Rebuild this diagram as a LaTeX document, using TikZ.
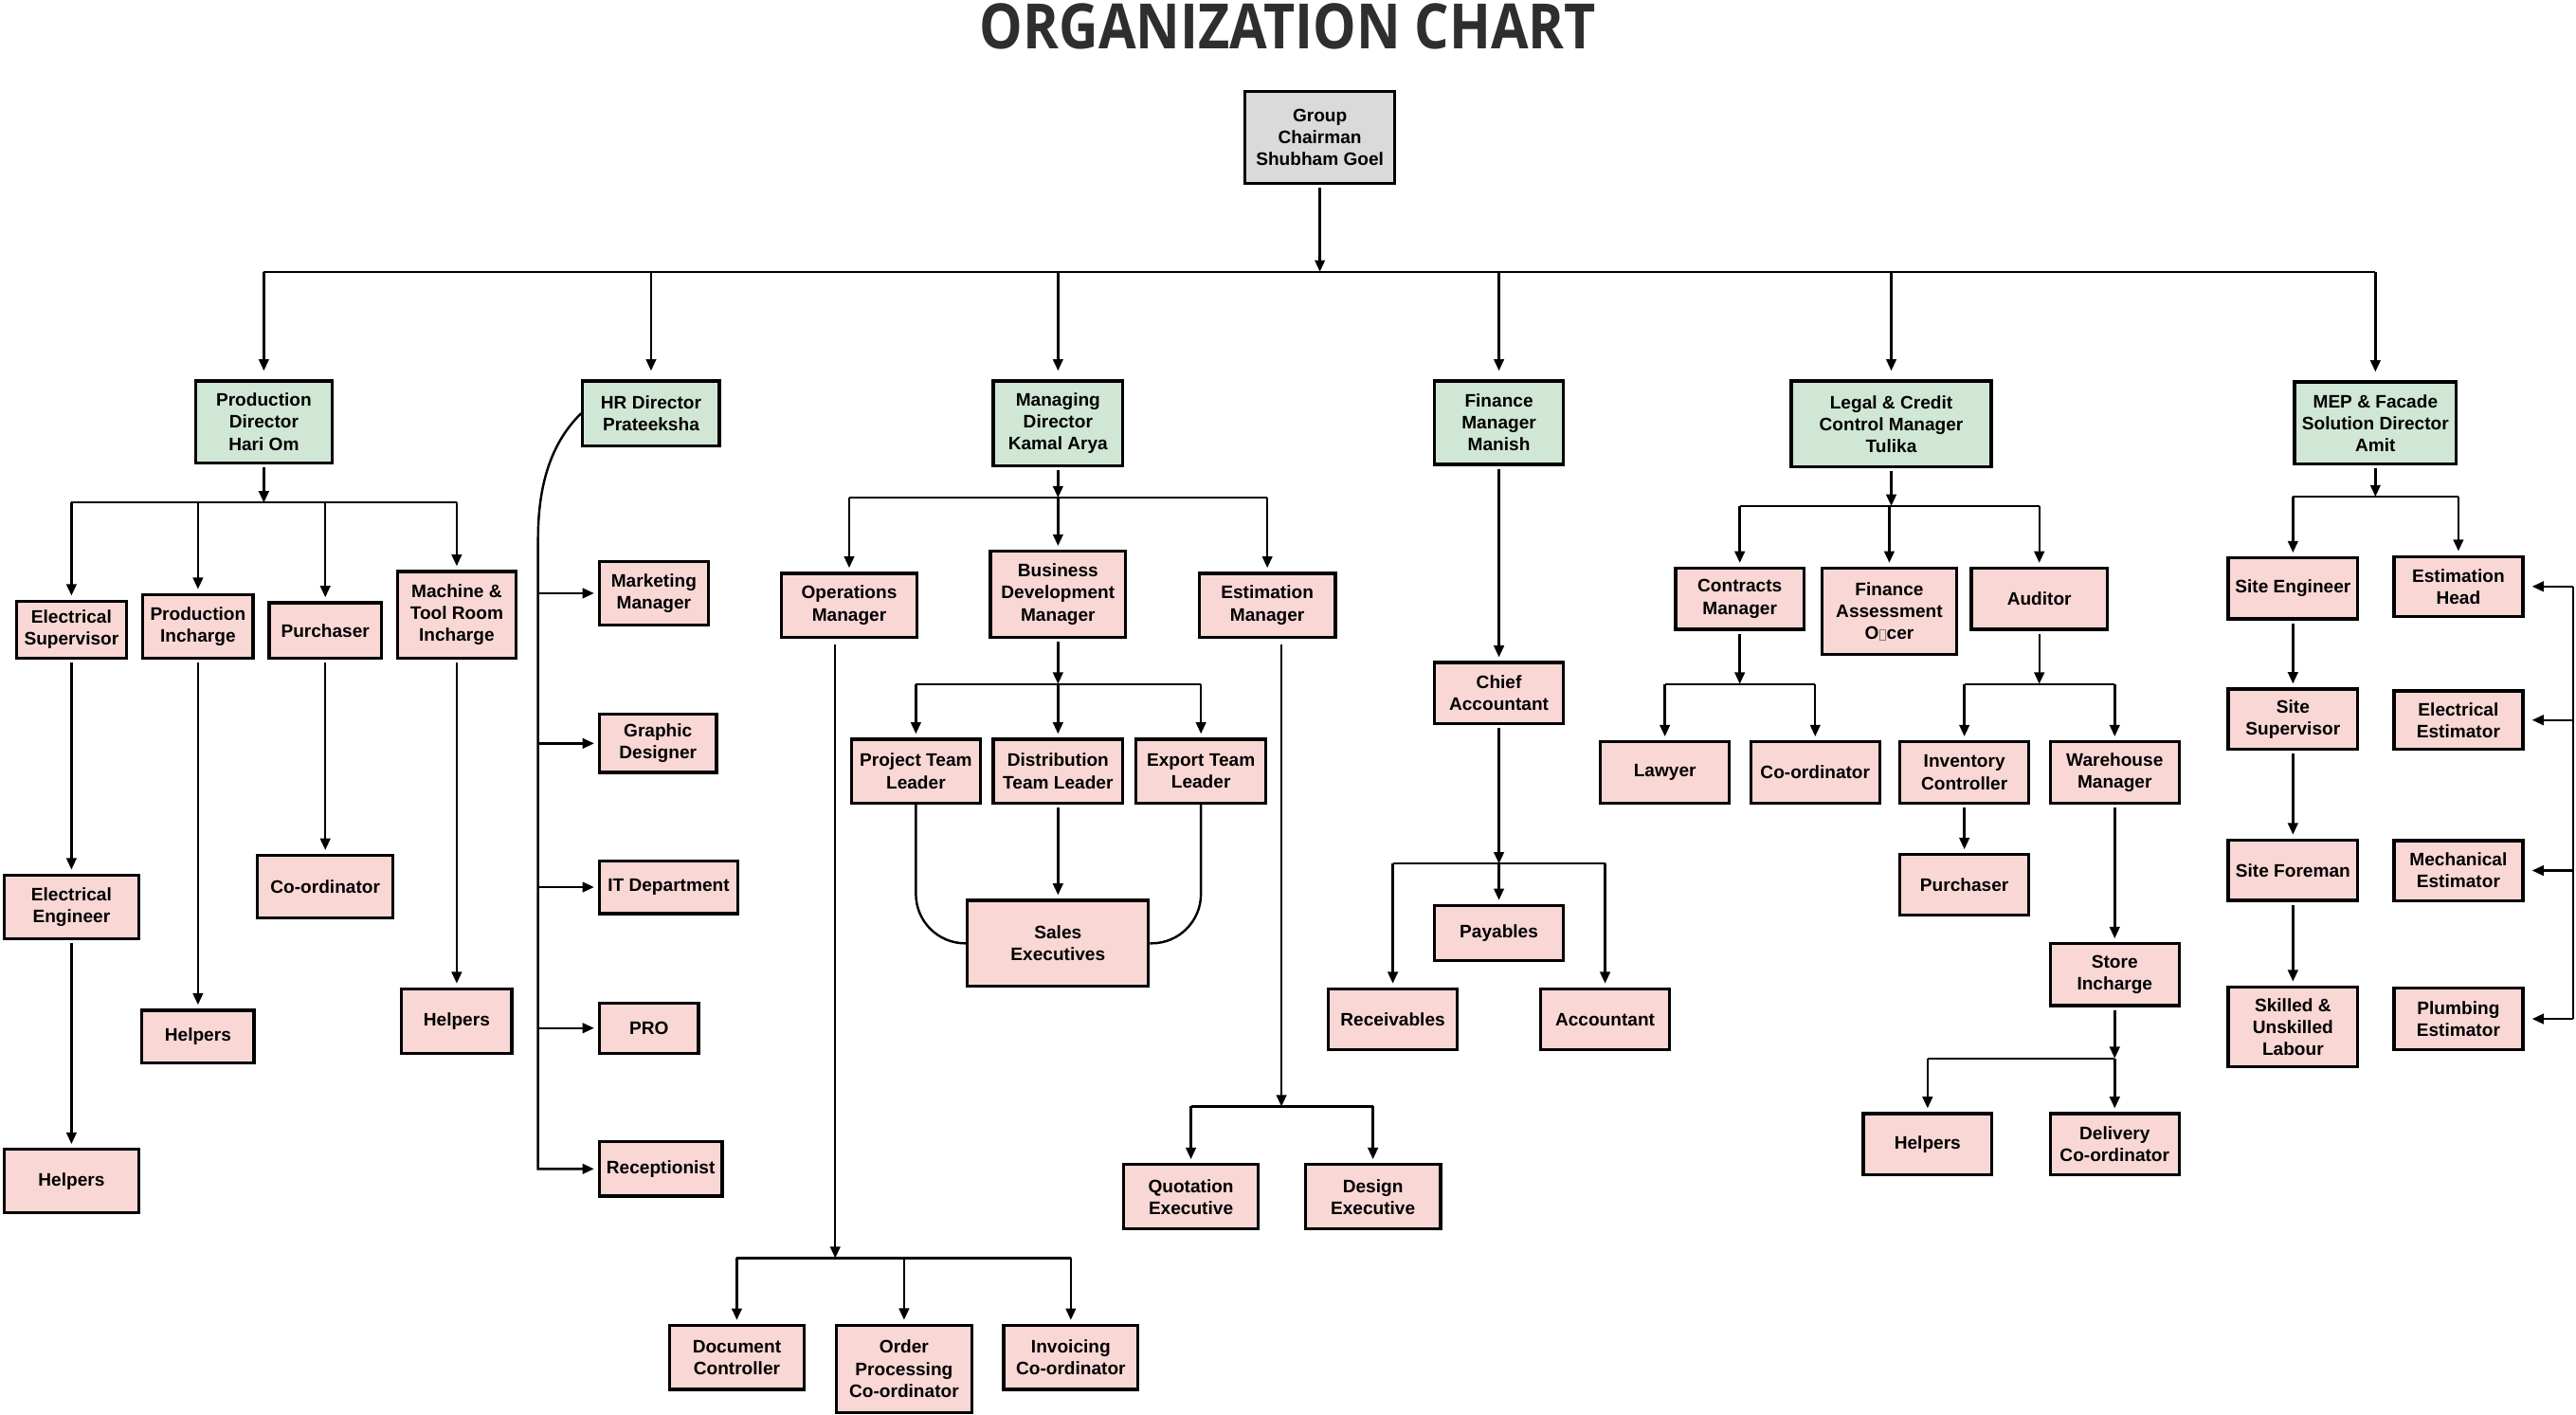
\documentclass[tikz,border=0pt]{standalone}
\usepackage{fontspec}
\setmainfont{Liberation Sans}
\newfontfamily\titlefont{Open Sans}
\usepackage{graphicx}
\usepackage{xcolor}
\usetikzlibrary{arrows.meta}

\definecolor{headgreen}{HTML}{D1E7D6}
\definecolor{staffpink}{HTML}{F9D7D5}
\definecolor{chairgray}{HTML}{DADADA}
\definecolor{titlegray}{HTML}{2E2E2E}
\newcommand{\boxfont}{\fontsize{9.4}{11.4}\selectfont\bfseries}
\newcommand{\tofu}{\kern0.05em{\color{gray}\fboxsep=0pt\fboxrule=0.35pt\fbox{\rule{0pt}{0.52em}\hspace{0.26em}}}\kern0.05em}

\begin{document}
\begin{tikzpicture}[x=0.03cm,y=-0.03cm,
        box/.style={draw,line width=1.6pt,fill=staffpink,align=center,inner sep=1pt,font=\boxfont},
        head/.style={box,fill=headgreen},
        wh/.style 2 args={minimum width=(#1-1.8)*0.03cm,minimum height=(#2-1.8)*0.03cm},
        arr/.style={line width=1.2pt,-{Triangle[width=5.2pt,length=6pt]},shorten >=2pt},
        feed/.style={arr,shorten <=1.5pt},
        tobus/.style={feed,shorten >=0pt},
        bus/.style={line width=1.05pt},
        wire/.style={line width=1.2pt}]
        \useasboundingbox (0,0) rectangle (1568,861.3);
        \node[anchor=base,inner sep=0pt,text=titlegray,font=\titlefont\bfseries\fontsize{32.5}{36}\selectfont] (title) at (784,29.5) {\scalebox{0.87}[1]{ORGANIZATION CHART}};
        \node[box,fill=chairgray,wh={93}{57.7}] (chair) at (803.4,83.7) {Group\\Chairman\\Shubham Goel};
        \node[head,wh={84.8}{51.6}] (pd) at (160.6,256.8) {Production\\Director\\Hari Om};
        \node[head,wh={85}{41.2}] (hr) at (396.3,251.6) {HR Director\\Prateeksha};
        \node[head,wh={80.6}{53.6}] (md) at (644,257.8) {Managing\\Director\\Kamal Arya};
        \node[head,wh={80.3}{52.6}] (fm) at (912.4,257.3) {Finance\\Manager\\Manish};
        \node[head,wh={123.5}{54.2}] (lcm) at (1151.2,258.1) {Legal \& Credit\\Control Manager\\Tulika};
        \node[head,wh={100.2}{51.8}] (mep) at (1445.9,257.5) {MEP \& Facade\\Solution Director\\Amit};
        \coordinate (topbus) at (803.4,165.4);
        \draw[tobus] (chair) -- (topbus);
        \draw[bus] (pd.north |- topbus) -- (mep.north |- topbus);
        \foreach \d in {pd,hr,md,fm,lcm,mep}
            \draw[arr,shorten >=4.5pt] (\d.north |- topbus) -- (\d.north);
        % production
        \node[box,wh={69}{36.7}] (es) at (43.5,383.3) {Electrical\\Supervisor};
        \node[box,wh={69}{40.7}] (pi) at (120.5,381.3) {Production\\Incharge};
        \node[box,wh={70}{35.7}] (pur1) at (198,383.8) {Purchaser};
        \node[box,wh={74}{54.7}] (mtr) at (278,374.3) {Machine \&\\Tool Room\\Incharge};
        \node[box,wh={83.8}{40.6}] (ee) at (43.5,552) {Electrical\\Engineer};
        \node[box,wh={83.8}{40.3}] (helpers1) at (43.5,718.9) {Helpers};
        \node[box,wh={70}{34}] (helpers2) at (120.5,631) {Helpers};
        \node[box,wh={84.4}{40}] (coord1) at (198,539.8) {Co-ordinator};
        \node[box,wh={68.8}{41}] (helpers3) at (278,621.5) {Helpers};
        \coordinate (pdbus) at (160.6,306);
        \draw[tobus] (pd) -- (pdbus);
        \draw[bus] (es.north |- pdbus) -- (mtr.north |- pdbus);
        \foreach \c in {es,pi,pur1,mtr}
            \draw[arr] (\c.north |- pdbus) -- (\c.north);
        \draw[feed] (es) -- (ee);
        \draw[feed] (ee) -- (helpers1);
        \draw[feed] (pi) -- (helpers2);
        \draw[feed] (pur1) -- (coord1);
        \draw[feed] (mtr) -- (helpers3);
        % hr
        \node[box,wh={68}{40.8}] (mkt) at (398,361.1) {Marketing\\Manager};
        \node[box,wh={73}{37}] (gd) at (400.5,452.5) {Graphic\\Designer};
        \node[box,wh={86}{34}] (itd) at (407,540) {IT Department};
        \node[box,wh={62}{32.4}] (pro) at (395,625.8) {PRO};
        \node[box,wh={76.5}{35}] (rec) at (402.2,711.5) {Receptionist};
        \coordinate (spine) at (327.5,0);
        \draw[arr] (hr.west) .. controls (337,268) and (327.5,292) .. (327.5,328) -- (rec.west -| spine) -- (rec.west);
        \foreach \n in {mkt,gd,itd,pro}
            \draw[arr] (\n.west -| spine) -- (\n.west);
        % managing director
        \node[box,wh={84.7}{40.7}] (om) at (516.9,368.4) {Operations\\Manager};
        \node[box,wh={84.2}{54.1}] (bdm) at (644,361.7) {Business\\Development\\Manager};
        \node[box,wh={84.7}{40.7}] (em) at (771.4,368.4) {Estimation\\Manager};
        \node[box,wh={80.3}{40.7}] (ptl) at (557.5,469.4) {Project Team\\Leader};
        \node[box,wh={80.6}{40.7}] (dtl) at (644,469.4) {Distribution\\Team Leader};
        \node[box,wh={80.7}{40.7}] (etl) at (731,469.4) {Export Team\\Leader};
        \node[box,wh={112}{54}] (se) at (644,574.2) {Sales\\Executives};
        \node[box,wh={84}{40.7}] (doc) at (448.5,826.2) {Document\\Controller};
        \node[box,wh={84.5}{54.8}] (opc) at (550.3,833.2) {Order\\Processing\\Co-ordinator};
        \node[box,wh={83.6}{40.7}] (inv) at (651.8,826.2) {Invoicing\\Co-ordinator};
        \node[box,wh={83.7}{41}] (qe) at (724.9,728.5) {Quotation\\Executive};
        \node[box,wh={84.1}{41}] (de) at (835.7,728.5) {Design\\Executive};
        \coordinate (mdbus) at (644,302.9);
        \draw[tobus] (md) -- (mdbus);
        \draw[bus] (om.north |- mdbus) -- (em.north |- mdbus);
        \foreach \c in {om,bdm,em}
            \draw[arr] (\c.north |- mdbus) -- (\c.north);
        \coordinate (bdmbus) at (644,416.3);
        \draw[tobus] (bdm) -- (bdmbus);
        \draw[bus] (ptl.north |- bdmbus) -- (etl.north |- bdmbus);
        \foreach \c in {ptl,dtl,etl}
            \draw[arr] (\c.north |- bdmbus) -- (\c.north);
        \draw[feed] (dtl) -- (se);
        \draw[wire,rounded corners=0.9cm] (ptl.south) |- (se.west);
        \draw[wire,rounded corners=0.9cm] (etl.south) |- (se.east);
        \coordinate (ombus) at (508.4,765.8);
        \draw[tobus,shorten <=3pt] (om.south -| ombus) -- (ombus);
        \draw[bus] (doc.north |- ombus) -- (inv.north |- ombus);
        \foreach \c in {doc,opc,inv}
            \draw[arr] (\c.north |- ombus) -- (\c.north);
        \coordinate (embus) at (780,673.5);
        \draw[tobus,shorten <=3pt] (em.south -| embus) -- (embus);
        \draw[bus] (qe.north |- embus) -- (de.north |- embus);
        \foreach \c in {qe,de}
            \draw[arr] (\c.north |- embus) -- (\c.north);
        % finance
        \node[box,wh={80.3}{38.8}] (ca) at (912.4,421.8) {Chief\\Accountant};
        \node[box,wh={80.3}{35.3}] (pay) at (912.4,567.9) {Payables};
        \node[box,wh={80.2}{39}] (rcv) at (847.8,620.5) {Receivables};
        \node[box,wh={80.1}{39}] (acc) at (977,620.5) {Accountant};
        \draw[feed] (fm) -- (ca);
        \coordinate (cabus) at (912.4,525.7);
        \draw[tobus] (ca) -- (cabus);
        \draw[bus] (rcv.north |- cabus) -- (acc.north |- cabus);
        \foreach \c in {rcv,pay,acc}
            \draw[arr] (\c.north |- cabus) -- (\c.north);
        % legal
        \node[box,wh={80}{39}] (cm) at (1059,364.5) {Contracts\\Manager};
        \node[box,wh={84}{54.5}] (fao) at (1150,372.2) {Finance\\Assessment\\O\tofu cer};
        \node[box,wh={84.6}{39}] (aud) at (1241.3,364.5) {Auditor};
        \node[box,wh={80.2}{39.1}] (law) at (1013.4,470.2) {Lawyer};
        \node[box,wh={80.3}{39.1}] (coord2) at (1104.9,470.2) {Co-ordinator};
        \node[box,wh={80.1}{39.1}] (ic) at (1195.7,470.2) {Inventory\\Controller};
        \node[box,wh={80.3}{39.1}] (wm) at (1287.2,470.2) {Warehouse\\Manager};
        \node[box,wh={80.1}{38.7}] (pur2) at (1195.7,538.7) {Purchaser};
        \node[box,wh={80.3}{39.4}] (si) at (1287.2,593.3) {Store\\Incharge};
        \node[box,wh={80.2}{38.8}] (helpers4) at (1173.3,696.4) {Helpers};
        \node[box,wh={80.3}{38.8}] (dc) at (1287.2,696.4) {Delivery\\Co-ordinator};
        \coordinate (lcmbus) at (1151.2,308);
        \draw[tobus] (lcm) -- (lcmbus);
        \draw[bus] (cm.north |- lcmbus) -- (aud.north |- lcmbus);
        \foreach \c in {cm,fao,aud}
            \draw[arr] (\c.north |- lcmbus) -- (\c.north);
        \coordinate (cmbus) at (1059,416.3);
        \draw[tobus] (cm) -- (cmbus);
        \draw[bus] (law.north |- cmbus) -- (coord2.north |- cmbus);
        \foreach \c in {law,coord2}
            \draw[arr] (\c.north |- cmbus) -- (\c.north);
        \coordinate (audbus) at (1241.3,416.3);
        \draw[tobus] (aud) -- (audbus);
        \draw[bus] (ic.north |- audbus) -- (wm.north |- audbus);
        \foreach \c in {ic,wm}
            \draw[arr] (\c.north |- audbus) -- (\c.north);
        \draw[feed] (ic) -- (pur2);
        \draw[feed] (wm) -- (si);
        \coordinate (sibus) at (1287.2,644.2);
        \draw[tobus] (si) -- (sibus);
        \draw[bus] (helpers4.north |- sibus) -- (sibus);
        \foreach \c in {helpers4,dc}
            \draw[arr] (\c.north |- sibus) -- (\c.north);
        % mep
        \node[box,wh={80.6}{38.9}] (sen) at (1395.7,358.2) {Site Engineer};
        \node[box,wh={80.6}{38.5}] (ss) at (1395.7,437.8) {Site\\Supervisor};
        \node[box,wh={80.6}{38.6}] (sf) at (1395.7,529.7) {Site Foreman};
        \node[box,wh={80.6}{50.6}] (sul) at (1395.7,625.1) {Skilled \&\\Unskilled\\Labour};
        \node[box,wh={80.3}{38.3}] (eh) at (1496.4,357) {Estimation\\Head};
        \node[box,wh={80.3}{37.4}] (elest) at (1496.4,438.3) {Electrical\\Estimator};
        \node[box,wh={80.3}{38.3}] (mest) at (1496.4,529.9) {Mechanical\\Estimator};
        \node[box,wh={80.3}{39.6}] (plest) at (1496.4,620.2) {Plumbing\\Estimator};
        \coordinate (mepbus) at (1445.9,302.3);
        \draw[tobus] (mep) -- (mepbus);
        \draw[bus] (sen.north |- mepbus) -- (eh.north |- mepbus);
        \foreach \c in {sen,eh}
            \draw[arr] (\c.north |- mepbus) -- (\c.north);
        \draw[feed] (sen) -- (ss);
        \draw[feed] (ss) -- (sf);
        \draw[feed] (sf) -- (sul);
        \coordinate (rspine) at (1566.3,0);
        \draw[wire] (eh.east -| rspine) -- (plest.east -| rspine);
        \foreach \n in {eh,elest,mest,plest}
            \draw[arr,shorten >=4pt] (\n.east -| rspine) -- (\n.east);
    \end{tikzpicture}
\end{document}
